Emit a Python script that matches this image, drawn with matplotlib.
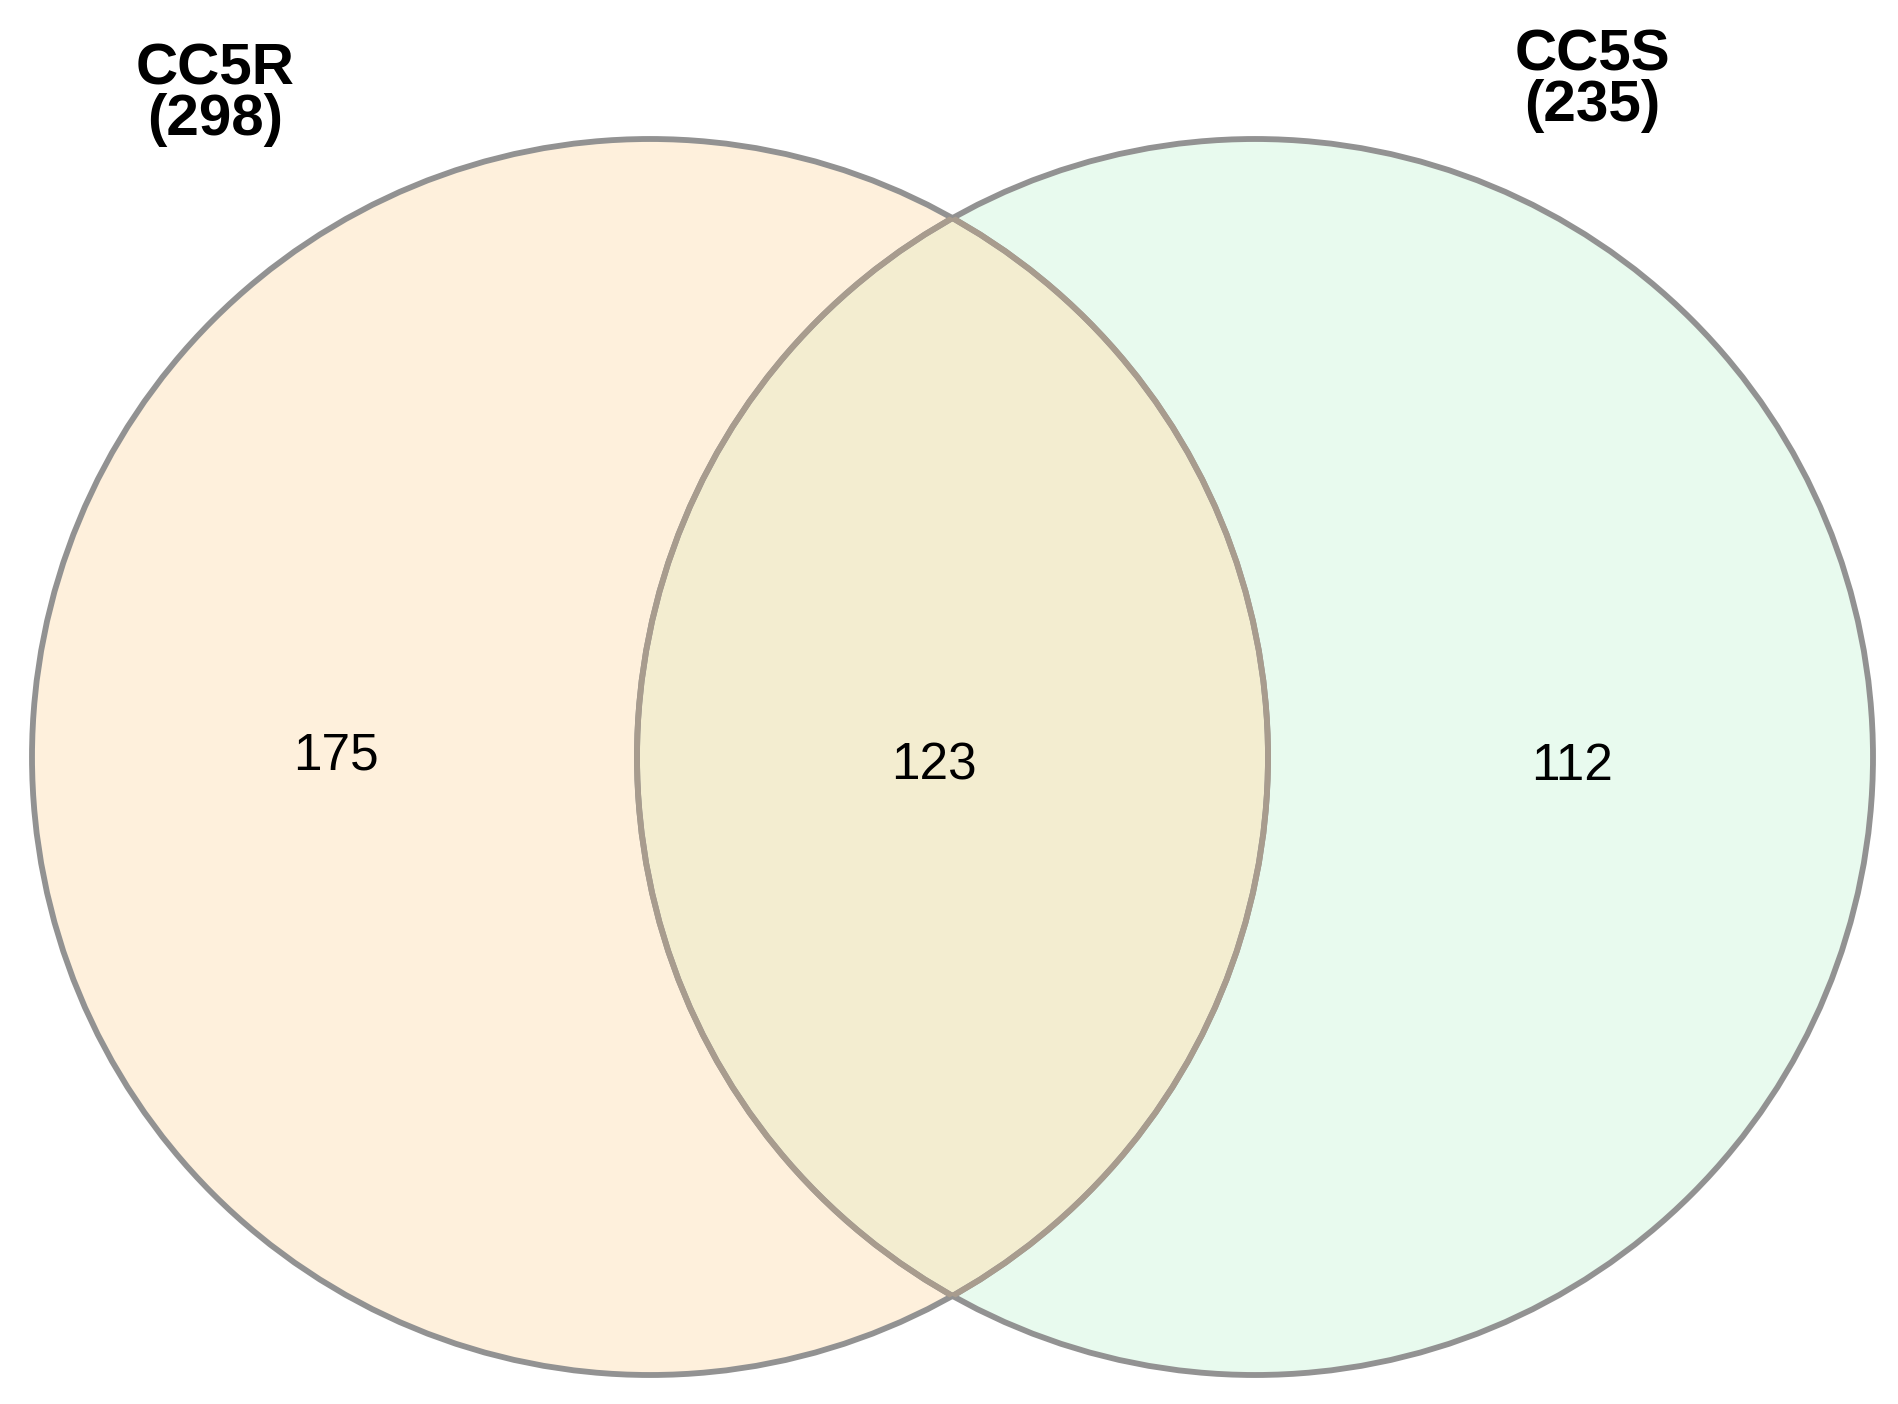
import matplotlib
matplotlib.use("Agg")
import matplotlib.pyplot as plt
from matplotlib.patches import Circle

plt.rcParams['font.family'] = ['Liberation Sans', 'DejaVu Sans']

# Venn counts
set_names = ['CC5R', 'CC5S']
set_totals = [298, 235]
only_left = 175
shared = 123
only_right = 112

fill_left = '#fef0dc'
fill_right = '#e8faee'
fill_both = '#f3edd0'
edge_outer = '#929292'
edge_inner = '#a89c8e'

W, H = 1899, 1404
fig = plt.figure(figsize=(W / 100, H / 100), dpi=100)
ax = fig.add_axes([0, 0, 1, 1])
ax.set_xlim(0, W)
ax.set_ylim(H, 0)
ax.set_aspect('equal')
ax.axis('off')

r = 618
cl = (650, 757)
cr = (1255, 757)

left = Circle(cl, r, facecolor=fill_left, edgecolor='none', zorder=1)
right = Circle(cr, r, facecolor=fill_right, edgecolor='none', zorder=1)
ax.add_patch(left)
ax.add_patch(right)

# intersection: right circle clipped to the left one
lens = Circle(cr, r, facecolor=fill_both, edgecolor='none', zorder=2)
ax.add_patch(lens)
lens.set_clip_path(left)

# outlines
for c in (cl, cr):
    ax.add_patch(Circle(c, r, facecolor='none', edgecolor=edge_outer, lw=4.2, zorder=3))
# inner arcs look browner
arc_a = Circle(cl, r, facecolor='none', edgecolor=edge_inner, lw=4.2, zorder=4)
arc_b = Circle(cr, r, facecolor='none', edgecolor=edge_inner, lw=4.2, zorder=4)
ax.add_patch(arc_a)
ax.add_patch(arc_b)
arc_a.set_clip_path(Circle(cr, r, transform=ax.transData))
arc_b.set_clip_path(Circle(cl, r, transform=ax.transData))

# set titles
ax.text(215, 95, f'{set_names[0]}\n({set_totals[0]})', ha='center', va='center',
        fontsize=42, fontweight='bold', linespacing=0.92, zorder=5)
ax.text(1592, 81, f'{set_names[1]}\n({set_totals[1]})', ha='center', va='center',
        fontsize=42, fontweight='bold', linespacing=0.92, zorder=5)

# region counts
ax.text(336, 756, str(only_left), ha='center', va='center', fontsize=37, zorder=5)
ax.text(934, 766, str(shared), ha='center', va='center', fontsize=37, zorder=5)
ax.text(1572, 766, str(only_right), ha='center', va='center', fontsize=37, zorder=5)

fig.savefig('out.png', dpi=100)
